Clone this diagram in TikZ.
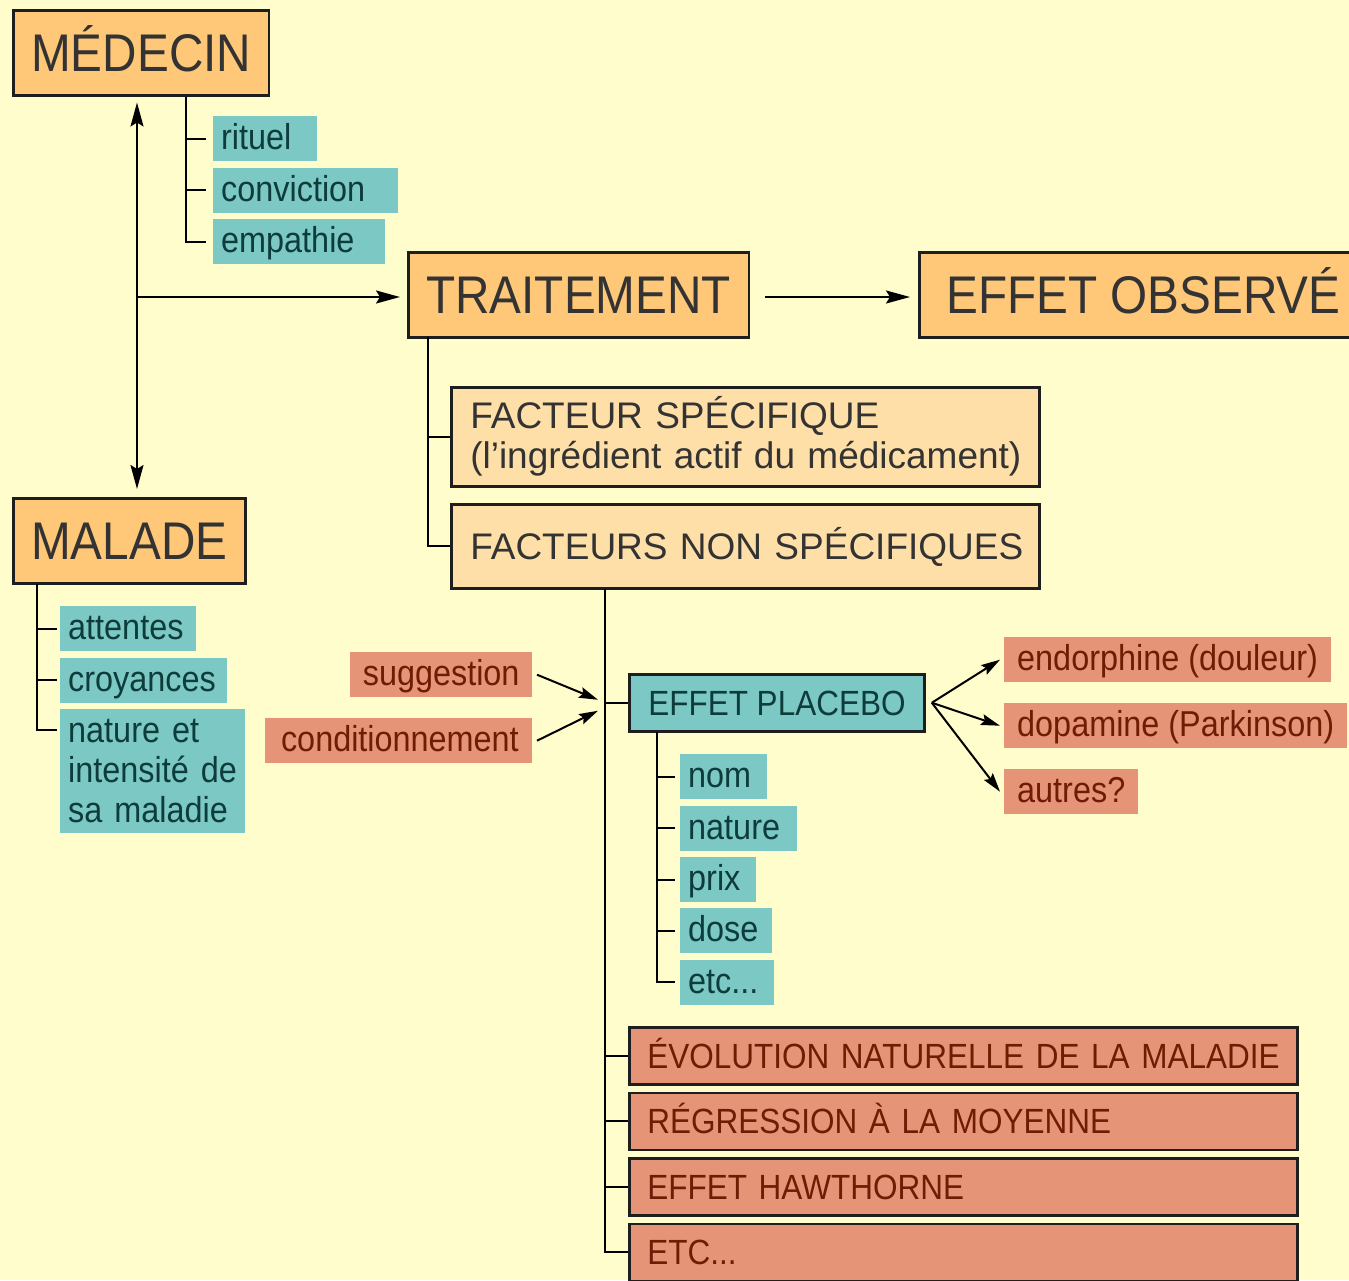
\documentclass[tikz,border=0pt]{standalone}
\usepackage{fontspec}
\setmainfont{Liberation Sans}[FakeStretch=0.9]
\newfontfamily\widefont{Liberation Sans}
\usetikzlibrary{arrows.meta,positioning}

\definecolor{paper}{HTML}{FFFDCB}
\definecolor{orangebox}{HTML}{FFC878}
\definecolor{paleorange}{HTML}{FFDFA8}
\definecolor{tealbox}{HTML}{7BC8C5}
\definecolor{salmonbox}{HTML}{E69478}
\definecolor{darktext}{HTML}{333333}
\definecolor{tealtext}{HTML}{0E3C3A}
\definecolor{salmontext}{HTML}{701C04}
\definecolor{boxline}{HTML}{1E1E1E}

\tikzset{
  big/.style={draw=boxline, line width=2.5pt, fill=orangebox, text=darktext,
    font=\fontsize{53}{60}\selectfont, inner xsep=18pt, inner ysep=0pt,
    minimum height=85pt, text height=37pt, text depth=0pt, anchor=north west},
  facteur/.style={draw=boxline, line width=2.5pt, fill=paleorange, text=darktext,
    font=\widefont\fontsize{37}{40}\selectfont, inner xsep=19pt, inner ysep=0pt,
    text width=550pt, align=left, anchor=north west},
  leafbase/.style={fill=tealbox, text=tealtext, font=\fontsize{36}{40}\selectfont,
    inner xsep=8pt, inner ysep=0pt, align=left},
  leaf/.style={leafbase, minimum height=45pt, text height=27pt, text depth=5pt},
  cause/.style={fill=salmonbox, text=salmontext, font=\fontsize{36}{40}\selectfont,
    inner xsep=13pt, inner ysep=0pt, minimum height=45pt, text height=27pt, text depth=5pt},
  placebo/.style={draw=boxline, line width=2.5pt, fill=tealbox, text=tealtext,
    font=\fontsize{35}{40}\selectfont, inner xsep=19pt, inner ysep=0pt,
    minimum height=57pt, text height=25pt, text depth=0pt, anchor=north west},
  facteurbas/.style={draw=boxline, line width=2.5pt, fill=salmonbox, text=salmontext,
    font=\fontsize{35}{40}\selectfont, inner xsep=18pt, inner ysep=0pt, text width=632pt,
    align=left, minimum height=57pt, text height=25pt, text depth=0pt, anchor=north west},
  tree/.style={line width=2pt, draw=black},
  link/.style={line width=2pt, draw=black},
  small/.style={-{Stealth[length=19pt,width=11pt,inset=3pt]}}
}

\begin{document}
\begin{tikzpicture}[x=1pt, y=-1pt, >={Stealth[length=24pt,width=13pt,inset=4pt]}]
    \useasboundingbox (0,0) rectangle (1349,1280);
    \clip (0,0) rectangle (1349,1280);
    \fill[paper] (0,0) rectangle (1349,1280);

    % main boxes
    \node[big] (medecin) at (12,9) {MÉDECIN};
    \node[big] (traitement) at (407,251) {TRAITEMENT};
    \node[big, inner xsep=27pt] (observe) at (918,251) {EFFET OBSERVÉ};
    \node[big] (malade) at (12,497) {MALADE};

    % what the doctor brings
    \node[leaf, text width=88pt, anchor=north west] (rituel) at (213,116) {rituel};
    \node[leaf, text width=169pt, below right=6pt and 0pt of rituel.south west] (conviction) {conviction};
    \node[leaf, text width=156pt, below right=6pt and 0pt of conviction.south west] (empathie) {empathie};

    % what the patient brings
    \node[leaf, text width=120pt, anchor=north west] (attentes) at (60,606) {attentes};
    \node[leaf, text width=151pt, below right=6pt and 0pt of attentes.south west] (croyances) {croyances};
    \node[leafbase, text width=169pt, minimum height=124pt, below right=6pt and 0pt of croyances.south west] (gravite) {nature et\\intensité de\\sa maladie};

    % factors of the treatment
    \node[facteur, minimum height=99pt] (specifique) at (450,386) {\mbox{FACTEUR SPÉCIFIQUE}\\\mbox{(l’ingrédient actif du médicament)}};
    \node[facteur, minimum height=84pt, text height=26.5pt, text depth=0pt] (nonspec) at (450,503) {\mbox{FACTEURS NON SPÉCIFIQUES}};

    % placebo and its sources
    \node[cause, anchor=north east, text width=156pt, align=right] (suggestion) at (532,652) {suggestion};
    \node[cause, anchor=north east, text width=241pt, align=right] (conditionnement) at (532,718) {conditionnement};
    \node[placebo] (placebo) at (628,673) {EFFET PLACEBO};
    \node[cause, anchor=north west] (endorphine) at (1004,637) {endorphine (douleur)};
    \node[cause, anchor=north west] (dopamine) at (1004,703) {dopamine (Parkinson)};
    \node[cause, anchor=north west] (autres) at (1004,769) {autres?};

    \node[leaf, text width=71pt, anchor=north west] (nom) at (680,754) {nom};
    \node[leaf, text width=101pt, below right=6pt and 0pt of nom.south west] (naturep) {nature};
    \node[leaf, text width=60pt, below right=6pt and 0pt of naturep.south west] (prix) {prix};
    \node[leaf, text width=76pt, below right=6pt and 0pt of prix.south west] (dose) {dose};
    \node[leaf, text width=78pt, below right=6pt and 0pt of dose.south west] (etcp) {etc...};

    % other non specific factors
    \node[facteurbas] (evolution) at (628,1026) {\mbox{ÉVOLUTION NATURELLE DE LA MALADIE}};
    \node[facteurbas, below right=6pt and 0pt of evolution.south west] (regression) {\mbox{RÉGRESSION À LA MOYENNE}};
    \node[facteurbas, below right=6pt and 0pt of regression.south west] (hawthorne) {\mbox{EFFET HAWTHORNE}};
    \node[facteurbas, below right=6pt and 0pt of hawthorne.south west] (autresfact) {ETC...};

    % main arrows
    \coordinate (hub) at (137,297);
    \draw[link, <->] ([yshift=-6pt]medecin.south -| hub) -- ([yshift=8pt]malade.north -| hub);
    \draw[link, ->] (hub) -- ([xshift=-7pt]traitement.west |- hub);
    \draw[link, ->] ([xshift=15pt]traitement.east |- hub) -- ([xshift=-8pt]observe.west |- hub);

    % trees
    \coordinate (mtrunk) at (186,97);
    \draw[tree] (mtrunk) |- ([xshift=-7pt]empathie.west);
    \foreach \leaf in {rituel,conviction}
        \draw[tree] (mtrunk |- \leaf.west) -- ([xshift=-7pt]\leaf.west);

    \coordinate (ltrunk) at (37,584);
    \draw[tree] (ltrunk) |- ([shift={(-3pt,-21pt)}]gravite.north west);
    \foreach \leaf in {attentes,croyances}
        \draw[tree] (ltrunk |- \leaf.west) -- ([xshift=-3pt]\leaf.west);

    \coordinate (ttrunk) at (428,337);
    \draw[tree] (ttrunk) |- (nonspec.west);
    \draw[tree] (ttrunk |- specifique.west) -- (specifique.west);

    \coordinate (ntrunk) at (605,589);
    \draw[tree] (ntrunk) |- (autresfact.west);
    \foreach \leaf in {placebo,evolution,regression,hawthorne}
        \draw[tree] (ntrunk |- \leaf.west) -- (\leaf.west);

    \coordinate (ptrunk) at (657,732);
    \draw[tree] (ptrunk) |- ([xshift=-5pt]etcp.west);
    \foreach \leaf in {nom,naturep,prix,dose}
        \draw[tree] (ptrunk |- \leaf.west) -- ([xshift=-5pt]\leaf.west);

    % into and out of the placebo effect
    \draw[link, small] ([xshift=5pt]suggestion.east) -- ([shift={(-30pt,3pt)}]placebo.west);
    \draw[link, small] ([xshift=5pt]conditionnement.east) -- ([shift={(-30pt,-8pt)}]placebo.west);
    \foreach \out in {endorphine,dopamine,autres}
        \draw[link, small] ([xshift=6pt]placebo.east) -- ([xshift=-4pt]\out.west);
\end{tikzpicture}
\end{document}
